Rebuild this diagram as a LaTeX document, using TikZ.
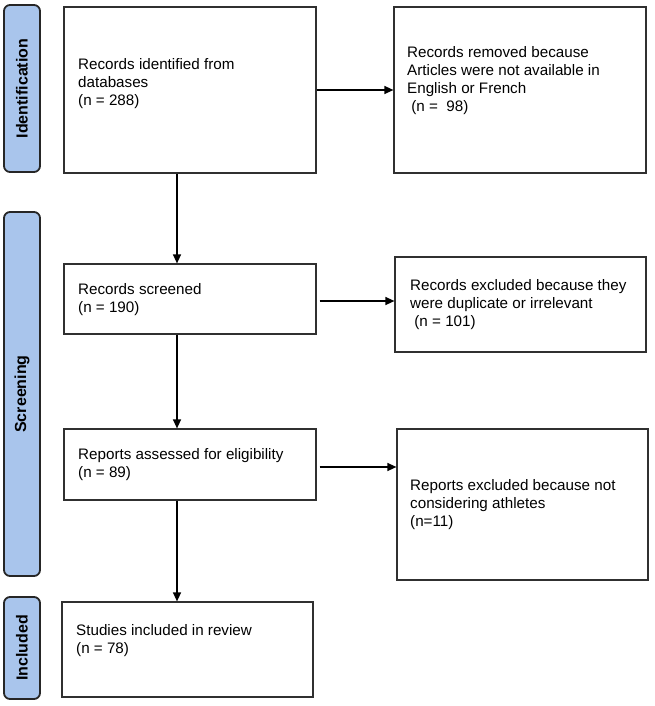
\documentclass[tikz,border=0pt]{standalone}
\usepackage{fontspec}
\setmainfont{Liberation Sans}
\usetikzlibrary{arrows.meta,positioning}
\definecolor{labfill}{HTML}{A9C5EC}
\definecolor{labdraw}{HTML}{262626}
\definecolor{boxdraw}{HTML}{303030}
\tikzset{
  x=1pt, y=-1pt,
  sidelab/.style={draw=labdraw, fill=labfill, line width=1.8pt, rounded corners=6pt,
    rotate=90, minimum height=36pt, inner sep=0pt,
    font=\fontsize{16}{18}\selectfont\bfseries},
  flowbox/.style={draw=boxdraw, line width=1.2pt, inner sep=0pt},
  boxtext/.style={anchor=west, align=left, inner sep=0pt,
    font=\fontsize{15.2}{18}\selectfont},
  arr/.style={line width=1.3pt, -{Triangle[length=9pt,width=8pt]}}
}
\begin{document}
\begin{tikzpicture}
\useasboundingbox (0,0) rectangle (654,706);
% side labels
\node[sidelab, minimum width=167pt] (lid) at (22,88.5) {Identification};
\node[sidelab, minimum width=364pt] (lsc) at (22,394) {Screening};
\node[sidelab, minimum width=102pt] (lin) at (22,648) {Included};
% boxes
\node[flowbox, minimum width=252pt, minimum height=166pt] (b1) at (190,90) {};
\node[flowbox, minimum width=252pt, minimum height=166pt] (b2) at (520,90) {};
\node[flowbox, minimum width=252pt, minimum height=70pt] (b3) at (190,299) {};
\node[flowbox, minimum width=251pt, minimum height=95pt] (b4) at (520.5,304.5) {};
\node[flowbox, minimum width=252pt, minimum height=71pt] (b5) at (190,464.5) {};
\node[flowbox, minimum width=251pt, minimum height=151pt] (b6) at (522.5,504.5) {};
\node[flowbox, minimum width=251pt, minimum height=95pt] (b7) at (187.5,649.5) {};
% texts
\node[boxtext] (t1) at (78,84) {Records identified from\\databases\\(n = 288)};
\node[boxtext] (t2) at (407,81) {Records removed because\\Articles were not available in\\English or French\\\ (n = \ 98)};
\node[boxtext] (t3) at (78,300) {Records screened\\(n = 190)};
\node[boxtext] (t4) at (410,305) {Records excluded because they\\were duplicate or irrelevant\\\ (n = 101)};
\node[boxtext] (t5) at (78,465) {Reports assessed for eligibility\\(n = 89)};
\node[boxtext] (t6) at (410,505) {Reports excluded because not\\considering athletes\\(n=11)};
\node[boxtext] (t7) at (76,641) {Studies included in review\\(n = 78)};
% connectors
\coordinate (col) at (177,0);
\draw[arr] (b1.east) -- (b2.west);
\draw[arr] (col |- b1.south) -- (col |- b3.north);
\draw[arr, shorten <=3pt] ([yshift=-2pt]b3.east) -- ([yshift=-2pt]b3.east -| b4.west);
\draw[arr] (col |- b3.south) -- (col |- b5.north);
\draw[arr, shorten <=3pt] ([yshift=-2.5pt]b5.east) -- ([yshift=-2.5pt]b5.east -| b6.west);
\draw[arr] (col |- b5.south) -- (col |- b7.north);
\end{tikzpicture}
\end{document}
